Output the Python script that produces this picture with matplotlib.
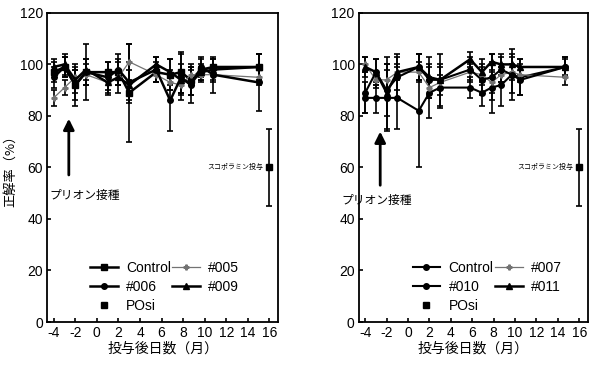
import matplotlib
matplotlib.use("Agg")
import matplotlib.pyplot as plt
from matplotlib.lines import Line2D

plt.rcParams['font.family'] = ['Liberation Sans', 'Noto Sans CJK JP', 'DejaVu Sans']
plt.rcParams['axes.unicode_minus'] = False

# --------------------------------------------------
# data
# --------------------------------------------------
LEFT_X  = [-4, -3, -2, -1, 1, 2, 3, 5.5, 6.8, 7.8, 8.7, 9.7, 10.8, 15]
RIGHT_X = [-4, -3, -2, -1, 1, 2, 3, 5.8, 6.9, 7.8, 8.7, 9.7, 10.5, 14.7]

left_control     = [97, 99, 92, 97, 97, 97, 89, 97, 96, 97, 94, 98, 99, 99]
left_control_err = [4, 4, 6, 11, 4, 5, 19, 4, 6, 8, 6, 4, 3, 5]
left_005         = [87, 91, 95, 96, 93, 95, 101, 96, 93, 92, 96, 96, 96, 95]
left_005_err     = [3, 3, 3, 4, 3, 3, 7, 3, 3, 3, 3, 3, 3, 3]
left_006         = [95, 99, 92, 97, 95, 98, 93, 98, 86, 95, 92, 99, 96, 93]
left_006_err     = [4, 4, 8, 5, 6, 6, 8, 5, 12, 9, 7, 4, 7, 11]
left_009         = [99, 100, 94, 98, 93, 95, 92, 100, 97, 94, 93, 97, 98, 99]
left_009_err     = [3, 4, 5, 4, 5, 6, 6, 3, 5, 6, 5, 3, 4, 5]

right_control     = [87, 87, 87, 87, 82, 89, 91, 91, 89, 91, 92, 96, 95, 99]
right_control_err = [6, 6, 13, 12, 22, 10, 8, 4, 5, 10, 8, 10, 7, 4]
right_007         = [100, 94, 94, 97, 97, 91, 93, 97, 96, 93, 96, 97, 96, 95]
right_007_err     = [3, 3, 4, 3, 4, 4, 3, 3, 3, 4, 3, 3, 3, 3]
right_010         = [89, 97, 90, 95, 99, 94, 94, 98, 94, 95, 98, 96, 94, 99]
right_010_err     = [8, 5, 10, 8, 5, 6, 10, 5, 6, 9, 5, 7, 6, 3]
right_011         = [99, 97, 89, 97, 99, 95, 94, 102, 97, 101, 100, 100, 99, 99]
right_011_err     = [4, 5, 14, 7, 5, 8, 6, 3, 5, 3, 4, 4, 3, 4]

POSI_X, POSI_Y, POSI_ERR = 16, 60, 15

X_TICKS = list(range(-4, 17, 2))
Y_TICKS = list(range(0, 121, 20))

JP = ['Noto Sans CJK JP', 'DejaVu Sans']

# --------------------------------------------------
# figure
# --------------------------------------------------
fig = plt.figure(figsize=(5.98, 3.68), dpi=100)
ax_l = fig.add_axes([0.079, 0.125, 0.386, 0.84])
ax_r = fig.add_axes([0.600, 0.125, 0.383, 0.84])

eb = dict(ecolor="black", elinewidth=1.2, capsize=2, capthick=1.2)


def draw_panel(ax, x, series, arrow_tip, arrow_tail, note_x, note_y):
    handles = []
    for vals, errs, label, marker, color, lw, ms in series:
        ax.errorbar(x, vals, yerr=errs, marker=marker, color=color,
                    lw=lw, ms=ms, mfc=color, mec=color, **eb)
        handles.append(Line2D([], [], marker=marker, color=color, lw=lw, ms=ms,
                              label=label))
    ax.errorbar([POSI_X], [POSI_Y], yerr=[POSI_ERR], marker="s",
                ls="none", color="black", ms=5, **eb)
    handles.append(Line2D([], [], marker="s", ls="none", color="black", ms=5,
                          label="POsi"))

    ax.text(15.4, POSI_Y, "スコポラミン投与", fontsize=5, ha="right", va="center",
            family=JP)
    ax.annotate("", xy=(-2.6, arrow_tip), xytext=(-2.6, arrow_tail),
                arrowprops=dict(arrowstyle="-|>", color="black", lw=2,
                                mutation_scale=16))
    ax.text(note_x, note_y, "プリオン接種", fontsize=8.5, ha="left", va="center",
            family=JP, clip_on=False)

    ax.set_xlim(-4.6, 16.8)
    ax.set_ylim(0, 120)
    ax.set_xticks(X_TICKS)
    ax.set_yticks(Y_TICKS)
    ax.tick_params(direction="in", length=3, width=1.2, labelsize=10, pad=3)
    for sp in ax.spines.values():
        sp.set_linewidth(1.3)
    ax.set_xlabel("投与後日数（月）", fontsize=10, family=JP, labelpad=1)

    # column-wise order: Control, #00x, POsi | #00y, #00z
    order = [0, 2, 4, 1, 3]
    return [handles[i] for i in order]


h = draw_panel(ax_l, LEFT_X, [
    (left_control, left_control_err, "Control", "s", "black", 1.8, 4),
    (left_005, left_005_err, "#005", "P", "0.45", 0.9, 3.5),
    (left_006, left_006_err, "#006", "o", "black", 1.8, 4),
    (left_009, left_009_err, "#009", "^", "black", 1.8, 4),
], arrow_tip=80, arrow_tail=56, note_x=-4.4, note_y=49)
ax_l.legend(handles=h, ncol=2, frameon=False, loc="lower left",
            bbox_to_anchor=(0.13, -0.01), fontsize=10, handlelength=2.0,
            handletextpad=0.6, columnspacing=0.1, labelspacing=0.35)
ax_l.set_ylabel("正解率（%）", fontsize=9.5, family=JP, labelpad=2)

h = draw_panel(ax_r, RIGHT_X, [
    (right_control, right_control_err, "Control", "o", "black", 1.5, 4),
    (right_007, right_007_err, "#007", "P", "0.45", 0.9, 3.5),
    (right_010, right_010_err, "#010", "o", "black", 1.5, 4),
    (right_011, right_011_err, "#011", "^", "black", 1.8, 4),
], arrow_tip=75, arrow_tail=52, note_x=-6.2, note_y=47)
ax_r.legend(handles=h, ncol=2, frameon=False, loc="lower left",
            bbox_to_anchor=(0.18, -0.01), fontsize=10, handlelength=2.0,
            handletextpad=0.6, columnspacing=0.1, labelspacing=0.35)

fig.savefig("out.png", dpi=100)
